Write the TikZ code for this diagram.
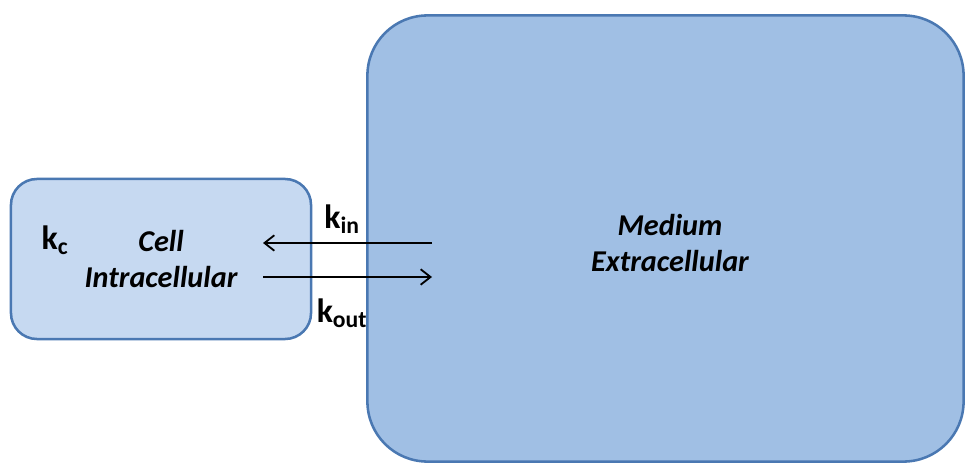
\documentclass[tikz,border=0pt]{standalone}
\usepackage{fontspec}
\setmainfont{Carlito}
\usetikzlibrary{arrows.meta, positioning}
\definecolor{cellfill}{HTML}{C6D9F1}
\definecolor{medfill}{HTML}{A0BFE4}
\definecolor{boxline}{HTML}{4A78B2}
\tikzset{
  compart/.style={rectangle, draw=boxline, line width=1.8pt,
                  align=center, font=\fontsize{21.5}{25}\selectfont\bfseries\itshape},
  cellbox/.style={compart, fill=cellfill, rounded corners=0.65cm,
                  minimum width=7.5cm, minimum height=4.0cm},
  medbox/.style={compart, fill=medfill, rounded corners=1.5cm,
                 minimum width=14.9cm, minimum height=11.15cm},
  rate/.style={font=\fontsize{24}{28}\selectfont\bfseries, inner sep=0pt},
  flux/.style={-{Straight Barb[length=7pt, width=11pt, line width=1.3pt]}, line width=1.3pt},
}
\begin{document}
\begin{tikzpicture}[x=0.025cm, y=-0.025cm]
  \useasboundingbox (0,0) rectangle (967,466);
  % compartments
  \node[medbox] (medium) at (665.5,238.5) {};
  \node[compart, draw=none, inner sep=0pt] (mediumtxt) at (670,243) {Medium\\Extracellular};
  \node[cellbox] (cell) at (161,259) {Cell\\Intracellular};
  % rate constants
  \node[rate] (kc) at (55,240) {k\textsubscript{c}};
  \node[rate] (kin) at (342,219) {k\textsubscript{in}};
  \node[rate] (kout) at (342,313) {k\textsubscript{out}};
  % exchange
  \coordinate (inA) at (432,243);
  \coordinate (inB) at (263,243);
  \coordinate (outA) at (263,277);
  \coordinate (outB) at (432,277);
  \draw[flux] (inA) -- (inB);
  \draw[flux] (outA) -- (outB);
\end{tikzpicture}
\end{document}
